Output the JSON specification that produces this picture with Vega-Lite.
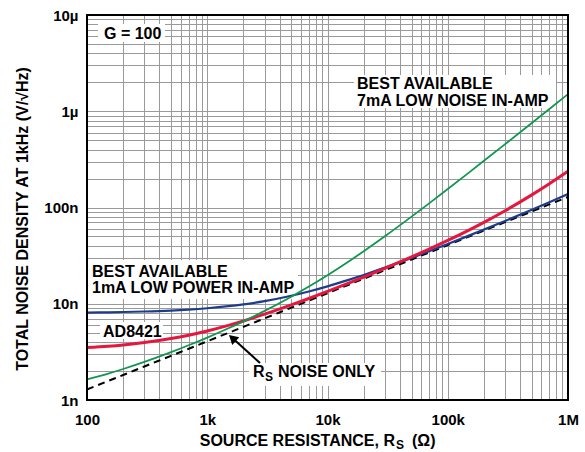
{
  "$schema": "https://vega.github.io/schema/vega-lite/v6.json",
  "width": 481,
  "height": 385,
  "autosize": {"type": "none"},
  "padding": {"left": 87, "top": 15, "right": 17, "bottom": 52},
  "background": "white",
  "config": {
    "view": {"stroke": null},
    "font": "Liberation Sans",
    "text": {"font": "Liberation Sans", "fontWeight": "bold", "color": "black"}
  },
  "datasets": {
    "curves": [
      {"s": "rs", "x": 100, "y": 1.287}, {"s": "rs", "x": 150, "y": 1.577}, {"s": "rs", "x": 200, "y": 1.82}, {"s": "rs", "x": 300, "y": 2.23}, {"s": "rs", "x": 500, "y": 2.878}, {"s": "rs", "x": 700, "y": 3.406}, {"s": "rs", "x": 1000, "y": 4.071}, {"s": "rs", "x": 1500, "y": 4.986}, {"s": "rs", "x": 2000, "y": 5.757}, {"s": "rs", "x": 3000, "y": 7.051}, {"s": "rs", "x": 5000, "y": 9.102}, {"s": "rs", "x": 7000, "y": 10.77}, {"s": "rs", "x": 10000, "y": 12.87}, {"s": "rs", "x": 15000, "y": 15.77}, {"s": "rs", "x": 20000, "y": 18.2}, {"s": "rs", "x": 30000, "y": 22.3}, {"s": "rs", "x": 50000, "y": 28.78}, {"s": "rs", "x": 70000, "y": 34.06}, {"s": "rs", "x": 100000, "y": 40.71}, {"s": "rs", "x": 150000, "y": 49.86}, {"s": "rs", "x": 200000, "y": 57.57}, {"s": "rs", "x": 300000, "y": 70.51}, {"s": "rs", "x": 500000, "y": 91.02}, {"s": "rs", "x": 700000, "y": 107.7}, {"s": "rs", "x": 1000000, "y": 128.7},
      {"s": "ad", "x": 100, "y": 3.505}, {"s": "ad", "x": 150, "y": 3.622}, {"s": "ad", "x": 200, "y": 3.735}, {"s": "ad", "x": 300, "y": 3.95}, {"s": "ad", "x": 500, "y": 4.351}, {"s": "ad", "x": 700, "y": 4.717}, {"s": "ad", "x": 1000, "y": 5.219}, {"s": "ad", "x": 1500, "y": 5.965}, {"s": "ad", "x": 2000, "y": 6.628}, {"s": "ad", "x": 3000, "y": 7.791}, {"s": "ad", "x": 5000, "y": 9.72}, {"s": "ad", "x": 7000, "y": 11.34}, {"s": "ad", "x": 10000, "y": 13.43}, {"s": "ad", "x": 15000, "y": 16.38}, {"s": "ad", "x": 20000, "y": 18.92}, {"s": "ad", "x": 30000, "y": 23.32}, {"s": "ad", "x": 50000, "y": 30.64}, {"s": "ad", "x": 70000, "y": 36.97}, {"s": "ad", "x": 100000, "y": 45.47}, {"s": "ad", "x": 150000, "y": 58.28}, {"s": "ad", "x": 200000, "y": 70.18}, {"s": "ad", "x": 300000, "y": 92.64}, {"s": "ad", "x": 500000, "y": 135.3}, {"s": "ad", "x": 700000, "y": 176.7}, {"s": "ad", "x": 1000000, "y": 237.9},
      {"s": "lp", "x": 100, "y": 8.103}, {"s": "lp", "x": 150, "y": 8.154}, {"s": "lp", "x": 200, "y": 8.205}, {"s": "lp", "x": 300, "y": 8.305}, {"s": "lp", "x": 500, "y": 8.502}, {"s": "lp", "x": 700, "y": 8.695}, {"s": "lp", "x": 1000, "y": 8.976}, {"s": "lp", "x": 1500, "y": 9.427}, {"s": "lp", "x": 2000, "y": 9.856}, {"s": "lp", "x": 3000, "y": 10.66}, {"s": "lp", "x": 5000, "y": 12.12}, {"s": "lp", "x": 7000, "y": 13.42}, {"s": "lp", "x": 10000, "y": 15.16}, {"s": "lp", "x": 15000, "y": 17.7}, {"s": "lp", "x": 20000, "y": 19.91}, {"s": "lp", "x": 30000, "y": 23.73}, {"s": "lp", "x": 50000, "y": 29.98}, {"s": "lp", "x": 70000, "y": 35.16}, {"s": "lp", "x": 100000, "y": 41.79}, {"s": "lp", "x": 150000, "y": 51.05}, {"s": "lp", "x": 200000, "y": 58.98}, {"s": "lp", "x": 300000, "y": 72.53}, {"s": "lp", "x": 500000, "y": 94.73}, {"s": "lp", "x": 700000, "y": 113.5}, {"s": "lp", "x": 1000000, "y": 138.3},
      {"s": "ln", "x": 100, "y": 1.637}, {"s": "ln", "x": 150, "y": 1.881}, {"s": "ln", "x": 200, "y": 2.099}, {"s": "ln", "x": 300, "y": 2.485}, {"s": "ln", "x": 500, "y": 3.138}, {"s": "ln", "x": 700, "y": 3.702}, {"s": "ln", "x": 1000, "y": 4.452}, {"s": "ln", "x": 1500, "y": 5.561}, {"s": "ln", "x": 2000, "y": 6.568}, {"s": "ln", "x": 3000, "y": 8.424}, {"s": "ln", "x": 5000, "y": 11.84}, {"s": "ln", "x": 7000, "y": 15.08}, {"s": "ln", "x": 10000, "y": 19.79}, {"s": "ln", "x": 15000, "y": 27.49}, {"s": "ln", "x": 20000, "y": 35.1}, {"s": "ln", "x": 30000, "y": 50.23}, {"s": "ln", "x": 50000, "y": 80.34}, {"s": "ln", "x": 70000, "y": 110.4}, {"s": "ln", "x": 100000, "y": 155.4}, {"s": "ln", "x": 150000, "y": 230.5}, {"s": "ln", "x": 200000, "y": 305.5}, {"s": "ln", "x": 300000, "y": 455.5}, {"s": "ln", "x": 500000, "y": 755.5}, {"s": "ln", "x": 700000, "y": 1055}, {"s": "ln", "x": 1000000, "y": 1505}
    ],
    "boxes": [
      {"x": 123.5, "x2": 445.4, "y": 8064, "y2": 5243},
      {"x": 16610, "x2": 794900, "y": 2380, "y2": 1081},
      {"x": 100, "x2": 5683, "y": 28.48, "y2": 11.2},
      {"x": 128.3, "x2": 428.5, "y": 6.46, "y2": 4.3},
      {"x": 2224, "x2": 27860, "y": 2.423, "y2": 1.398}
    ],
    "notes": [
      {"x": 138.5, "y": 5631, "t": "G = 100"},
      {"x": 17598, "y": 1703, "t": "BEST AVAILABLE"},
      {"x": 17598, "y": 1134, "t": "7mA LOW NOISE IN-AMP"},
      {"x": 110, "y": 18.96, "t": "BEST AVAILABLE"},
      {"x": 110, "y": 12.93, "t": "1mA LOW POWER IN-AMP"},
      {"x": 135.9, "y": 4.51, "t": "AD8421"},
      {"x": 2402, "y": 1.734, "t": "R"},
      {"x": 3877, "y": 1.734, "t": "NOISE ONLY"}
    ],
    "subs": [
      {"x": 3022, "y": 1.576, "t": "S"},
      {"x": 37110, "y": 0.3100, "t": "S"}
    ],
    "xtitleA": [{"x": 36410, "y": 0.3325, "t": "SOURCE RESISTANCE, R"}],
    "xtitleB": [{"x": 50440, "y": 0.3325, "t": "(Ω)"}],
    "ytitle": [{"x": 32.31, "y": 75.95, "t": "TOTAL NOISE DENSITY AT 1kHz (V/√Hz)"}],
    "arrow": [{"x": 2746, "y": 2.423, "x2": 1653, "y2": 4.303}],
    "head": [{"x": 1653, "y": 4.303}],
    "frame": [{"x": 100, "x2": 1000000, "y": 1, "y2": 10000}]
  },
  "encoding": {
    "x": {
      "field": "x", "type": "quantitative",
      "scale": {"type": "log", "domain": [100, 1000000], "nice": false},
      "axis": {
        "title": null, "domain": false, "ticks": false, "grid": true,
        "gridColor": "#9a9a9a", "gridWidth": 1, "gridOpacity": 1,
        "values": [100,200,300,400,500,600,700,800,900,1000,2000,3000,4000,5000,6000,7000,8000,9000,10000,20000,30000,40000,50000,60000,70000,80000,90000,100000,200000,300000,400000,500000,600000,700000,800000,900000,1000000],
        "labelExpr": "datum.value == 100 ? '100' : datum.value == 1000 ? '1k' : datum.value == 10000 ? '10k' : datum.value == 100000 ? '100k' : datum.value == 1000000 ? '1M' : ''",
        "labelOverlap": false, "labelBound": false, "labelFlush": false,
        "labelFont": "Liberation Sans", "labelFontWeight": "bold", "labelFontSize": 15, "labelColor": "black", "labelPadding": 12
      }
    },
    "y": {
      "field": "y", "type": "quantitative",
      "scale": {"type": "log", "domain": [1, 10000], "nice": false},
      "axis": {
        "title": null, "domain": false, "ticks": false, "grid": true,
        "gridColor": "#9a9a9a", "gridWidth": 1, "gridOpacity": 1,
        "values": [1,2,3,4,5,6,7,8,9,10,20,30,40,50,60,70,80,90,100,200,300,400,500,600,700,800,900,1000,2000,3000,4000,5000,6000,7000,8000,9000,10000],
        "labelExpr": "datum.value == 1 ? '1n' : datum.value == 10 ? '10n' : datum.value == 100 ? '100n' : datum.value == 1000 ? '1µ' : datum.value == 10000 ? '10µ' : ''",
        "labelOverlap": false, "labelBound": false, "labelFlush": false,
        "labelFont": "Liberation Sans", "labelFontWeight": "bold", "labelFontSize": 15, "labelColor": "black", "labelPadding": 9
      }
    }
  },
  "layer": [
    {"data": {"name": "boxes"}, "mark": {"type": "rect", "fill": "white", "stroke": null}, "encoding": {"x2": {"field": "x2"}, "y2": {"field": "y2"}}},
    {"data": {"name": "curves"}, "transform": [{"filter": "datum.s == 'rs'"}], "mark": {"type": "line", "color": "black", "strokeWidth": 2, "strokeDash": [7, 5], "interpolate": "monotone"}, "encoding": {}},
    {"data": {"name": "curves"}, "transform": [{"filter": "datum.s == 'lp'"}], "mark": {"type": "line", "color": "#1d3c8c", "strokeWidth": 2.2, "interpolate": "monotone"}, "encoding": {}},
    {"data": {"name": "curves"}, "transform": [{"filter": "datum.s == 'ad'"}], "mark": {"type": "line", "color": "#e5173f", "strokeWidth": 3, "interpolate": "monotone"}, "encoding": {}},
    {"data": {"name": "curves"}, "transform": [{"filter": "datum.s == 'ln'"}], "mark": {"type": "line", "color": "#119650", "strokeWidth": 1.8, "interpolate": "monotone"}, "encoding": {}},
    {"data": {"name": "arrow"}, "mark": {"type": "rule", "color": "black", "strokeWidth": 2}, "encoding": {"x2": {"field": "x2"}, "y2": {"field": "y2"}}},
    {"data": {"name": "head"}, "mark": {"type": "point", "shape": "triangle", "filled": true, "color": "black", "opacity": 1, "size": 110, "angle": 312}, "encoding": {}},
    {"data": {"name": "notes"}, "mark": {"type": "text", "align": "left", "baseline": "alphabetic", "fontSize": 16}, "encoding": {"text": {"field": "t"}}},
    {"data": {"name": "subs"}, "mark": {"type": "text", "align": "left", "baseline": "alphabetic", "fontSize": 12}, "encoding": {"text": {"field": "t"}}},
    {"data": {"name": "xtitleA"}, "mark": {"type": "text", "align": "right", "baseline": "alphabetic", "fontSize": 16}, "encoding": {"text": {"field": "t"}}},
    {"data": {"name": "xtitleB"}, "mark": {"type": "text", "align": "left", "baseline": "alphabetic", "fontSize": 16}, "encoding": {"text": {"field": "t"}}},
    {"data": {"name": "ytitle"}, "mark": {"type": "text", "align": "center", "baseline": "alphabetic", "fontSize": 16, "angle": 270}, "encoding": {"text": {"field": "t"}}},
    {"data": {"name": "frame"}, "mark": {"type": "rect", "fill": null, "fillOpacity": 0, "stroke": "black", "strokeWidth": 2}, "encoding": {"x2": {"field": "x2"}, "y2": {"field": "y2"}}}
  ]
}
